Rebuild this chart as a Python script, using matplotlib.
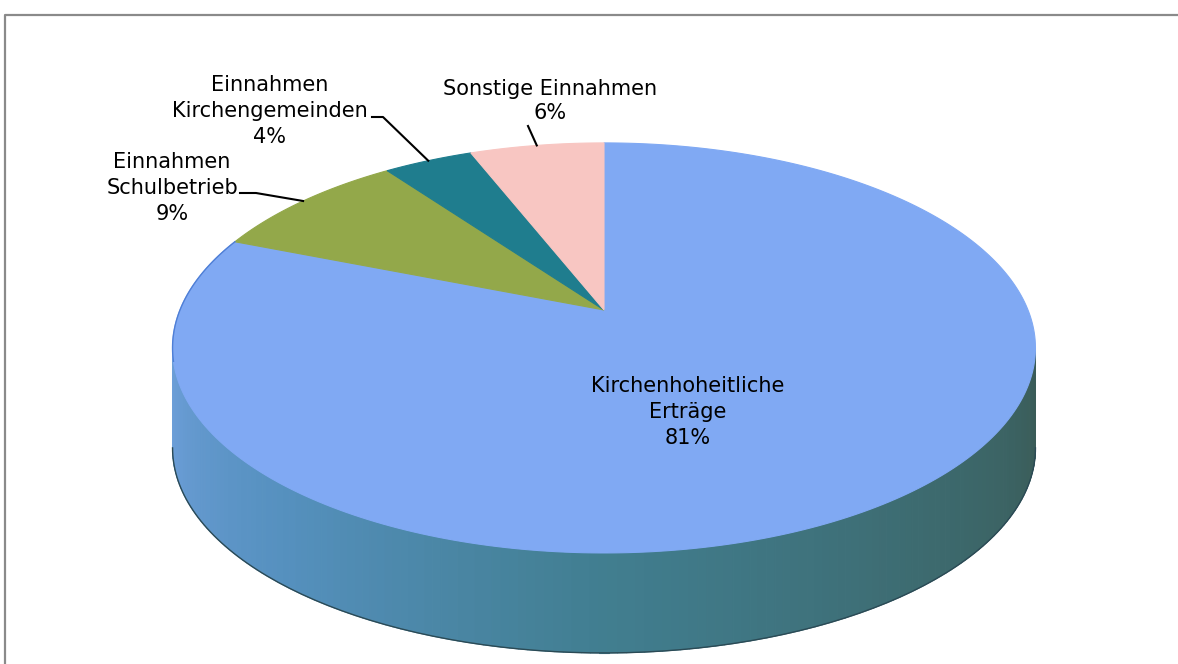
import numpy as np
import matplotlib.pyplot as plt
from matplotlib.patches import Polygon
from matplotlib.collections import PolyCollection
from matplotlib.colors import LinearSegmentedColormap

# data
categories = ["Kirchenhoheitliche\nErträge", "Einnahmen\nSchulbetrieb",
              "Einnahmen\nKirchengemeinden", "Sonstige Einnahmen"]
shares = [81, 9, 4, 6]
colors = ["#80A9F3", "#93A84A", "#1F7D8E", "#F8C6C2"]

# 3d-pie geometry (pixel space)
cx, cy = 604, 310       # projected pie centre
A, B = 424, 198         # horizontal / depth scale
k = 0.185               # perspective strength
depth = 100


def proj(phi, dz=0.0):
    X, Z = np.cos(phi), np.sin(phi)
    w = 1 + k * Z
    return cx + A * X / w, cy - B * Z / w + dz


fig = plt.figure(figsize=(11.78, 6.64), dpi=100)
ax = fig.add_axes([0, 0, 1, 1])
ax.set_xlim(0, 1178)
ax.set_ylim(664, 0)
ax.axis("off")

# frame
ax.plot([5, 5, 1178], [664, 15, 15], color="#8a8a8a", lw=1.6)

# side wall (front, only first slice is visible there)
t0 = np.pi + np.arcsin(k)
t1 = 2 * np.pi - np.arcsin(k)
ts = np.linspace(t0, t1, 160)
side_cmap = LinearSegmentedColormap.from_list(
    "side", ["#6E9FDA", "#5590BE", "#417E90", "#3D6B70", "#3A5B57"])
quads, qcol = [], []
for i in range(len(ts) - 1):
    xa, ya = proj(ts[i])
    xb, yb = proj(ts[i + 1])
    quads.append([(xa, ya), (xb, yb), (xb, yb + depth), (xa, ya + depth)])
    qcol.append(side_cmap(i / (len(ts) - 2)))
ax.add_collection(PolyCollection(quads, facecolors=qcol, edgecolors=qcol, lw=0.8))
xs, ys = proj(ts, depth)
ax.plot(xs, ys, color="#2b4a55", lw=1.0)

# top face wedges, clockwise from 12 o'clock
fr = np.array(shares) / sum(shares)
starts = np.pi / 2 - 2 * np.pi * np.concatenate([[0], np.cumsum(fr)[:-1]])
ends = starts - 2 * np.pi * fr
for s, e, c in zip(starts, ends, colors):
    ph = np.linspace(s, e, 300)
    px, py = proj(ph)
    pts = np.column_stack([np.r_[cx, px], np.r_[cy, py]])
    ax.add_patch(Polygon(pts, closed=True, facecolor=c, edgecolor=c, lw=0.8))
edge_ph = np.linspace(ends[0] + 2 * np.pi, np.pi + 0.25, 80)
ex, ey = proj(edge_ph)
ax.plot(ex, ey, color="#4f7fd6", lw=1.0)

mids = (starts + ends) / 2
fs = 15
ls = 1.38

# inner label for the large slice
ax.text(688, 412, f"{categories[0]}\n{shares[0]}%", ha="center", va="center",
        fontsize=fs, linespacing=ls)

# outer labels with leader lines
ax.text(172, 188, f"{categories[1]}\n{shares[1]}%", ha="center", va="center",
        fontsize=fs, linespacing=ls)
mx, my = proj(mids[1])
ax.plot([240, 256, mx], [193, 193, my], color="black", lw=1.5)

ax.text(270, 111, f"{categories[2]}\n{shares[2]}%", ha="center", va="center",
        fontsize=fs, linespacing=ls)
mx, my = proj(mids[2])
ax.plot([372, 383, mx], [117, 117, my], color="black", lw=1.5)

ax.text(550, 101, f"{categories[3]}\n{shares[3]}%", ha="center", va="center",
        fontsize=fs, linespacing=1.25)
mx, my = proj(mids[3])
ax.plot([528, mx], [126, my], color="black", lw=1.5)

fig.savefig("out.png", dpi=100)
